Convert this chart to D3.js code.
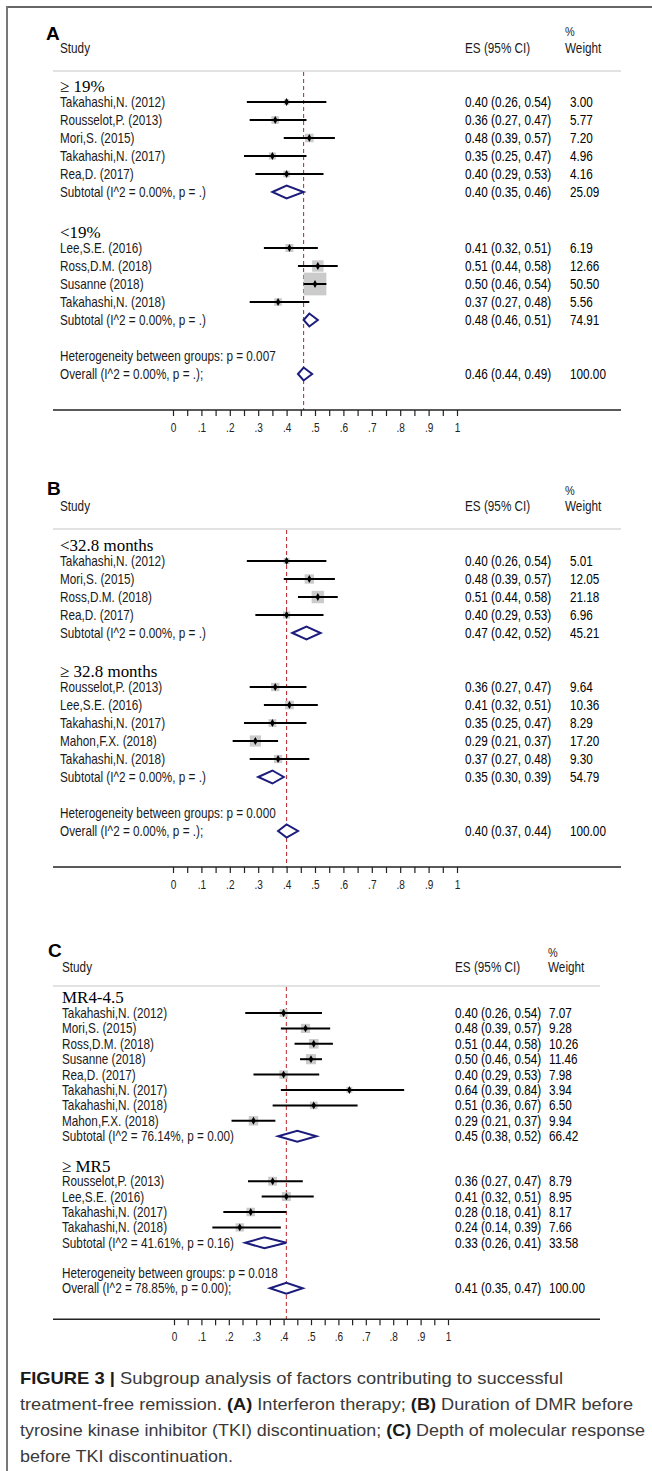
<!DOCTYPE html>
<html><head><meta charset="utf-8">
<script src="https://cdn.jsdelivr.net/npm/d3@7/dist/d3.min.js"></script>
<style>
html,body{margin:0;padding:0;background:#fff;}
svg{display:block;}
</style></head>
<body>
<script>
// ---------------- DATA ----------------
// Panel A: Interferon therapy
const groupsA = ["≥ 19%", "<19%"];
const studiesA = ["Takahashi,N. (2012)","Rousselot,P. (2013)","Mori,S. (2015)","Takahashi,N. (2017)","Rea,D. (2017)",
                  "Lee,S.E. (2016)","Ross,D.M. (2018)","Susanne (2018)","Takahashi,N. (2018)"];
const groupOfA = [0,0,0,0,0,1,1,1,1];
const esA = [0.40,0.36,0.48,0.35,0.40,0.41,0.51,0.50,0.37];
const loA = [0.26,0.27,0.39,0.25,0.29,0.32,0.44,0.46,0.27];
const hiA = [0.54,0.47,0.57,0.47,0.53,0.51,0.58,0.54,0.48];
const wA  = [3.00,5.77,7.20,4.96,4.16,6.19,12.66,50.50,5.56];
const subLabelA = ["Subtotal  (I^2 = 0.00%, p = .)","Subtotal  (I^2 = 0.00%, p = .)"];
const subEsA = [0.40,0.48], subLoA = [0.35,0.46], subHiA = [0.46,0.51], subWA = [25.09,74.91];
const hetA = "Heterogeneity between groups: p = 0.007";
const overallA = {label:"Overall  (I^2 = 0.00%, p = .);", es:0.46, lo:0.44, hi:0.49, w:100.00};

// Panel B: Duration of DMR
const groupsB = ["<32.8 months", "≥ 32.8 months"];
const studiesB = ["Takahashi,N. (2012)","Mori,S. (2015)","Ross,D.M. (2018)","Rea,D. (2017)",
                  "Rousselot,P. (2013)","Lee,S.E. (2016)","Takahashi,N. (2017)","Mahon,F.X. (2018)","Takahashi,N. (2018)"];
const groupOfB = [0,0,0,0,1,1,1,1,1];
const esB = [0.40,0.48,0.51,0.40,0.36,0.41,0.35,0.29,0.37];
const loB = [0.26,0.39,0.44,0.29,0.27,0.32,0.25,0.21,0.27];
const hiB = [0.54,0.57,0.58,0.53,0.47,0.51,0.47,0.37,0.48];
const wB  = [5.01,12.05,21.18,6.96,9.64,10.36,8.29,17.20,9.30];
const subLabelB = ["Subtotal  (I^2 = 0.00%, p = .)","Subtotal  (I^2 = 0.00%, p = .)"];
const subEsB = [0.47,0.35], subLoB = [0.42,0.30], subHiB = [0.52,0.39], subWB = [45.21,54.79];
const hetB = "Heterogeneity between groups: p = 0.000";
const overallB = {label:"Overall  (I^2 = 0.00%, p = .);", es:0.40, lo:0.37, hi:0.44, w:100.00};

// Panel C: Depth of molecular response
const groupsC = ["MR4-4.5", "≥ MR5"];
const studiesC = ["Takahashi,N. (2012)","Mori,S. (2015)","Ross,D.M. (2018)","Susanne (2018)","Rea,D. (2017)",
                  "Takahashi,N. (2017)","Takahashi,N. (2018)","Mahon,F.X. (2018)",
                  "Rousselot,P. (2013)","Lee,S.E. (2016)","Takahashi,N. (2017)","Takahashi,N. (2018)"];
const groupOfC = [0,0,0,0,0,0,0,0,1,1,1,1];
const esC = [0.40,0.48,0.51,0.50,0.40,0.64,0.51,0.29,0.36,0.41,0.28,0.24];
const loC = [0.26,0.39,0.44,0.46,0.29,0.39,0.36,0.21,0.27,0.32,0.18,0.14];
const hiC = [0.54,0.57,0.58,0.54,0.53,0.84,0.67,0.37,0.47,0.51,0.41,0.39];
const wC  = [7.07,9.28,10.26,11.46,7.98,3.94,6.50,9.94,8.79,8.95,8.17,7.66];
const subLabelC = ["Subtotal  (I^2 = 76.14%, p = 0.00)","Subtotal  (I^2 = 41.61%, p = 0.16)"];
const subEsC = [0.45,0.33], subLoC = [0.38,0.26], subHiC = [0.52,0.41], subWC = [66.42,33.58];
const hetC = "Heterogeneity between groups: p = 0.018";
const overallC = {label:"Overall  (I^2 = 78.85%, p = 0.00);", es:0.41, lo:0.35, hi:0.47, w:100.00};

const tickValues = d3.range(0, 21).map(i => i / 20);
const tickLabels = ["0",".1",".2",".3",".4",".5",".6",".7",".8",".9","1"];

const captionLines = [
  [["FIGURE 3 | ",true],["Subgroup analysis of factors contributing to successful",false]],
  [["treatment-free remission. ",false],["(A)",true],[" Interferon therapy; ",false],["(B)",true],[" Duration of DMR before",false]],
  [["tyrosine kinase inhibitor (TKI) discontinuation; ",false],["(C)",true],[" Depth of molecular response",false]],
  [["before TKI discontinuation.",false]]
];

// ---------------- DRAWING ----------------
const W = 652, H = 1471;
const svg = d3.select("body").append("svg").attr("width", W).attr("height", H);
svg.append("rect").attr("width", W).attr("height", H).attr("fill", "#fff");

// frame
svg.append("line").attr("x1",7).attr("x2",W).attr("y1",7).attr("y2",7).attr("stroke","#666").attr("stroke-width",2);
svg.append("line").attr("x1",7).attr("x2",7).attr("y1",6).attr("y2",H).attr("stroke","#777").attr("stroke-width",2);

const SX = 0.84;
function txt(g, x, y, s, o = {}) {
  return g.append("text")
    .attr("transform", `translate(${x},${y}) scale(${o.sx ?? SX},1)`)
    .attr("dy", "0.36em")
    .attr("font-family", o.family || "'Liberation Sans', Arial, sans-serif")
    .attr("font-size", o.size || 14)
    .attr("font-weight", o.weight || "normal")
    .attr("fill", o.fill || "#1a1a1a")
    .text(s);
}
const fmt2 = d3.format(".2f");
const ciText = (e,l,h) => `${fmt2(e)} (${fmt2(l)}, ${fmt2(h)})`;

function drawPanel(p) {
  const g = svg.append("g");
  const x = d3.scaleLinear().domain([0,1]).range([p.x0, p.x1]);

  // header
  txt(g, p.letterX, p.letterY, p.letter, {size:19, weight:"bold", fill:"#000", sx:1});
  txt(g, p.nameX, p.headY, "Study", {fill:"#1a1a1a"});
  txt(g, p.esX, p.headY, "ES (95% CI)", {fill:"#1a1a1a"});
  txt(g, p.pctX, p.pctY, "%", {fill:"#1a1a1a", size:13});
  txt(g, p.pctX, p.headY, "Weight", {fill:"#1a1a1a"});
  g.append("line").attr("x1", p.lineX0).attr("x2", p.lineX1).attr("y1", p.sepY).attr("y2", p.sepY)
    .attr("stroke", "#e2e2e2").attr("stroke-width", 2);

  // row layout
  let y = p.sepY;
  const rows = [];
  p.groups.forEach((gname, gi) => {
    y += gi === 0 ? p.sepToHeader : p.subToHeader;
    rows.push({type:"header", y, label:gname});
    y += p.headerToFirst - p.step;
    p.studies.forEach((s, i) => {
      if (p.groupOf[i] !== gi) return;
      y += p.step;
      rows.push({type:"study", y, label:s, es:p.es[i], lo:p.lo[i], hi:p.hi[i], w:p.w[i]});
    });
    y += p.step;
    rows.push({type:"sub", y, label:p.subLabel[gi], es:p.subEs[gi], lo:p.subLo[gi], hi:p.subHi[gi], w:p.subW[gi]});
  });
  y += p.subToHet;
  rows.push({type:"het", y, label:p.het});
  y += p.step;
  rows.push({type:"sub", y, label:p.overall.label, es:p.overall.es, lo:p.overall.lo, hi:p.overall.hi, w:p.overall.w});
  const axisY = y + p.overallToAxis;

  // dashed reference line at overall estimate
  g.append("line").attr("x1", x(p.overall.es)).attr("x2", x(p.overall.es))
    .attr("y1", p.sepY + 1).attr("y2", axisY)
    .attr("stroke", "#b8232a").attr("stroke-width", 1).attr("stroke-dasharray", "4,3");

  rows.forEach(r => {
    if (r.type === "header") {
      txt(g, p.nameX, r.y, r.label, {family:"'Liberation Serif','Times New Roman',serif", size:17.5, fill:"#000", sx:0.97});
    } else if (r.type === "het") {
      txt(g, p.nameX, r.y, r.label, {fill:"#1a1a1a"});
    } else if (r.type === "study") {
      const side = p.boxK * Math.sqrt(r.w);
      g.append("rect").attr("x", x(r.es) - side/2).attr("y", r.y - side/2)
        .attr("width", side).attr("height", side).attr("fill", "#cbcbcb");
      g.append("line").attr("x1", x(r.lo)).attr("x2", x(r.hi)).attr("y1", r.y).attr("y2", r.y)
        .attr("stroke", "#000").attr("stroke-width", 2);
      g.append("path").attr("transform", `translate(${x(r.es)},${r.y})`)
        .attr("d", d3.symbol(d3.symbolDiamond, 18)()).attr("fill", "#000");
      txt(g, p.nameX, r.y, r.label, {fill:"#1a1a1a"});
      txt(g, p.esX, r.y, ciText(r.es, r.lo, r.hi), {fill:"#000"});
      txt(g, p.wX, r.y, fmt2(r.w), {fill:"#000"});
    } else {
      const h = p.diamH;
      g.append("path")
        .attr("d", `M${x(r.lo)},${r.y}L${x(r.es)},${r.y - h}L${x(r.hi)},${r.y}L${x(r.es)},${r.y + h}Z`)
        .attr("fill", "#fff").attr("stroke", "#1c1c7c").attr("stroke-width", 2);
      txt(g, p.nameX, r.y, r.label, {fill:"#1a1a1a"});
      txt(g, p.esX, r.y, ciText(r.es, r.lo, r.hi), {fill:"#000"});
      txt(g, p.wX, r.y, fmt2(r.w), {fill:"#000"});
    }
  });

  // axis
  g.append("line").attr("x1", p.lineX0).attr("x2", p.lineX1).attr("y1", axisY).attr("y2", axisY)
    .attr("stroke", "#222").attr("stroke-width", 1.5);
  const ax = d3.axisBottom(x).tickValues(tickValues).tickSize(6).tickPadding(7)
    .tickFormat((d, i) => i % 2 === 0 ? tickLabels[i / 2] : "");
  const ag = g.append("g").attr("transform", `translate(0,${axisY})`).call(ax);
  ag.select(".domain").remove();
  ag.selectAll(".tick line").attr("stroke", "#222").attr("stroke-width", 1.2);
  ag.selectAll(".tick text").attr("font-family", "'Liberation Sans', Arial, sans-serif")
    .attr("font-size", 12).attr("fill", "#222")
    .attr("transform", `scale(${SX},1)`);
}

drawPanel({
  letter:"A", letterX:46, letterY:33, nameX:60, esX:465, wX:570, pctX:565, pctY:31, headY:48,
  sepY:71, lineX0:53, lineX1:621, x0:173, x1:457,
  step:18, sepToHeader:15, headerToFirst:16, subToHeader:40, subToHet:36, overallToAxis:36,
  boxK:3.2, diamH:6.5,
  groups:groupsA, studies:studiesA, groupOf:groupOfA, es:esA, lo:loA, hi:hiA, w:wA,
  subLabel:subLabelA, subEs:subEsA, subLo:subLoA, subHi:subHiA, subW:subWA, het:hetA, overall:overallA
});
drawPanel({
  letter:"B", letterX:47, letterY:488, nameX:60, esX:465, wX:570, pctX:565, pctY:490, headY:506,
  sepY:529, lineX0:53, lineX1:621, x0:173, x1:457,
  step:18, sepToHeader:16, headerToFirst:16, subToHeader:38, subToHet:36, overallToAxis:36,
  boxK:2.7, diamH:6.5,
  groups:groupsB, studies:studiesB, groupOf:groupOfB, es:esB, lo:loB, hi:hiB, w:wB,
  subLabel:subLabelB, subEs:subEsB, subLo:subLoB, subHi:subHiB, subW:subWB, het:hetB, overall:overallB
});
drawPanel({
  letter:"C", letterX:48, letterY:950, nameX:62, esX:455, wX:549, pctX:548, pctY:952, headY:967,
  sepY:986, lineX0:53, lineX1:600, x0:174, x1:448,
  step:15.4, sepToHeader:11, headerToFirst:16, subToHeader:29, subToHet:30, overallToAxis:31,
  boxK:3.0, diamH:5.5,
  groups:groupsC, studies:studiesC, groupOf:groupOfC, es:esC, lo:loC, hi:hiC, w:wC,
  subLabel:subLabelC, subEs:subEsC, subLo:subLoC, subHi:subHiC, subW:subWC, het:hetC, overall:overallC
});

// caption
const capEnds = [563, 633, 645, 233];
captionLines.forEach((parts, li) => {
  const t = svg.append("text").attr("x", 20).attr("y", 1384 + li * 26)
    .attr("font-family", "'Liberation Sans', Arial, sans-serif").attr("font-size", 17)
    .attr("fill", "#3a3a3a")
    .attr("textLength", capEnds[li] - 20).attr("lengthAdjust", "spacingAndGlyphs");
  parts.forEach(([s, b]) => {
    t.append("tspan").attr("font-weight", b ? "bold" : "normal").attr("fill", b ? "#1a1a1a" : "#3a3a3a").text(s);
  });
});
</script>
</body></html>
